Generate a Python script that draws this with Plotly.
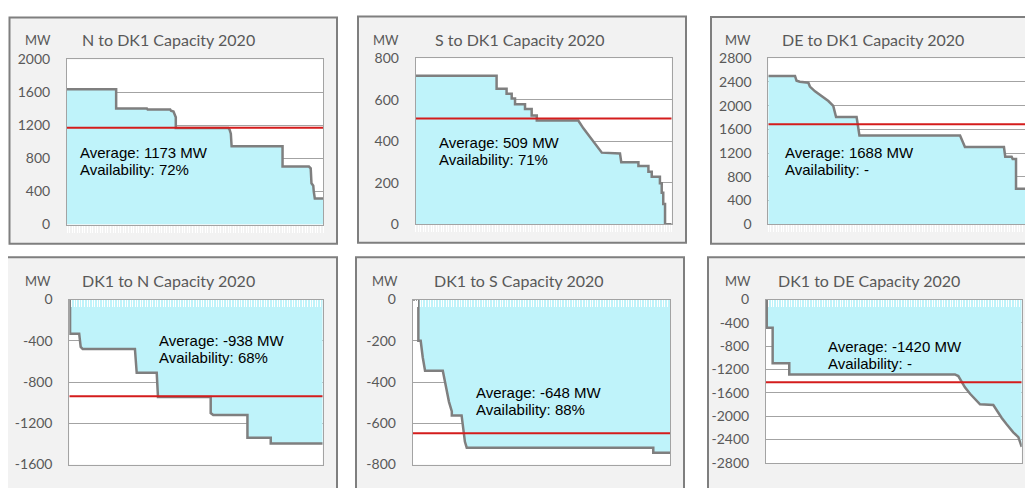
import plotly.graph_objects as go

# ---------------- data ----------------
titles = ["N to DK1 Capacity 2020", "S to DK1 Capacity 2020", "DE to DK1 Capacity 2020",
          "DK1 to N Capacity 2020", "DK1 to S Capacity 2020", "DK1 to DE Capacity 2020"]
averages = [1173, 509, 1688, -938, -648, -1420]
availability = ["72%", "71%", "-", "68%", "88%", "-"]
y_ranges = [[0, 2000], [0, 800], [0, 2800], [-1600, 0], [-800, 0], [-2800, 0]]
y_dticks = [400, 200, 400, 400, 200, 400]

# duration (% of hours) and capacity (MW) of each duration curve
dur_n_dk1 = [0, 19.2, 19.2, 31.2, 31.5, 40.3, 40.6, 41.6, 42.5, 42.5, 63.0, 63.5, 64.0, 64.3,
             84.2, 84.2, 94.5, 95.2, 95.5, 96.2, 96.4, 96.8, 100]
mw_n_dk1 = [1640, 1640, 1407, 1407, 1395, 1395, 1380, 1370, 1300, 1170, 1170, 1150, 1100, 947,
            947, 702, 702, 680, 500, 470, 400, 316, 316]

dur_s_dk1 = [0, 31.6, 31.6, 35.5, 35.5, 37.5, 37.5, 38.8, 38.8, 42.7, 42.7, 45.3, 45.3, 47.3,
             47.3, 63.5, 65.5, 67.4, 69.4, 71.4, 72.7, 79.8, 80.3, 87.0, 87.0, 90.9, 90.9,
             92.2, 92.2, 95.4, 95.4, 96.1, 96.1, 96.7, 96.7, 97.4, 97.4, 100]
mw_s_dk1 = [715, 715, 653, 653, 629, 629, 606, 606, 578, 578, 555, 555, 524, 524,
            500, 500, 462, 431, 400, 369, 345, 341, 299, 299, 281, 281, 253,
            253, 229, 229, 198, 198, 152, 152, 98, 98, 0, 0]

dur_de_dk1 = [0, 10.4, 11.0, 12.3, 15.6, 16.2, 18.2, 20.8, 23.4, 25.3, 26.4, 34.4, 35.5, 74.7,
              76.6, 91.8, 92.3, 94.8, 95.2, 96.5, 96.5, 100]
mw_de_dk1 = [2501, 2501, 2420, 2404, 2387, 2322, 2241, 2160, 2078, 1997, 1807, 1807, 1498, 1498,
             1302, 1302, 1139, 1139, 1101, 1101, 597, 597]

dur_dk1_n = [0, 0.3, 0.3, 3.9, 4.5, 5.3, 25.9, 26.3, 26.6, 34.5, 35.0, 55.8, 55.8, 56.8,
             70.3, 70.3, 79.5, 79.5, 100]
mw_dk1_n = [0, 0, -331, -331, -460, -480, -480, -696, -711, -711, -945, -945, -1101, -1120,
            -1120, -1341, -1341, -1397, -1397]

dur_dk1_s = [0, 2.2, 2.2, 3.1, 3.9, 4.8, 11.7, 12.3, 13.2, 14.1, 15.2, 15.2, 19.0, 19.7,
             20.3, 21.0, 93.5, 93.5, 100]
mw_dk1_s = [0, 0, -200, -200, -280, -345, -345, -387, -434, -496, -543, -562, -562, -640,
            -690, -718, -718, -743, -743]

dur_dk1_de = [0, 0.3, 0.3, 2.6, 2.6, 9.1, 9.1, 73.9, 75.2, 76.5, 77.8, 79.8, 81.7, 83.7,
              88.9, 90.9, 92.2, 94.1, 96.7, 98.7, 99.7, 100]
mw_dk1_de = [0, 0, -485, -485, -1091, -1091, -1284, -1284, -1312, -1422, -1505, -1615, -1698,
             -1797, -1808, -1946, -2029, -2139, -2277, -2359, -2525, -2525]

durations = [dur_n_dk1, dur_s_dk1, dur_de_dk1, dur_dk1_n, dur_dk1_s, dur_dk1_de]
capacities = [mw_n_dk1, mw_s_dk1, mw_de_dk1, mw_dk1_n, mw_dk1_s, mw_dk1_de]

# ---------------- layout geometry (pixels of the target picture) ----------------
W, H = 1033, 488
OFF = 8  # the page body adds an 8 px margin around the figure
plot_px = [(67, 52, 323, 223), (415.7, 50.7, 671.7, 222.7), (768.3, 50.7, 1025, 222.7),
           (69.3, 300.7, 322.7, 471.7), (412.7, 300.7, 670, 471.7), (766, 300.7, 1021.7, 470)]
panel_px = [(9.5, 8.5, 337, 243), (358, 7.5, 686, 242), (711, 8, 1045, 243),
            (7, 257, 337, 510), (356, 257, 684, 510), (708, 257, 1045, 510)]
title_px = [(80, 31), (433, 31), (780, 31), (80, 281), (432, 281), (776, 281)]
mw_px = [(37.5, 32), (386, 32), (738, 32), (37.5, 282), (385, 282), (738, 282)]
note_px = [(78, 148), (437, 138), (783, 148), (157, 343), (474, 397), (826, 349)]


def fx(x):
    return (x - OFF) / W


def fy(y):
    return 1 - (y - OFF) / H


FILL = "#bff3fa"
CURVE = "#7f7f7f"
GRID = "#a3a3a3"
RED = "#d41c1c"
GREY_TXT = "#595959"

fig = go.Figure()
shapes = []
annotations = []
layout = {}

for i in range(6):
    k = "" if i == 0 else str(i + 1)
    xa, ya = "x" + k, "y" + k
    x0, y0, x1, y1 = plot_px[i]
    top_row = i < 3

    # panel frame
    px0, py0, px1, py1 = panel_px[i]
    shapes.append(dict(type="rect", xref="paper", yref="paper", layer="below",
                       x0=fx(px0), x1=fx(px1), y0=fy(py1), y1=fy(py0),
                       fillcolor="#f2f2f2", line=dict(color="#7f7f7f", width=2)))
    shapes.append(dict(type="rect", xref=xa + " domain", yref=ya + " domain", layer="below",
                       x0=0, x1=1, y0=0, y1=1, fillcolor="white", line=dict(width=0)))

    fig.add_trace(go.Scatter(x=durations[i], y=capacities[i], mode="lines",
                             fill="tozeroy", fillcolor=FILL,
                             line=dict(color=CURVE, width=2.5),
                             xaxis=xa, yaxis=ya, showlegend=False, hoverinfo="skip"))
    fig.add_trace(go.Scatter(x=[0, 100], y=[averages[i], averages[i]], mode="lines",
                             line=dict(color=RED, width=2),
                             xaxis=xa, yaxis=ya, showlegend=False, hoverinfo="skip"))

    lo, hi = y_ranges[i]
    tickvals = list(range(lo, hi + 1, y_dticks[i]))
    ticktext = [str(v) for v in tickvals]  # plain hyphen minus, as in the reference

    layout["xaxis" + k] = dict(domain=[fx(x0), fx(x1)], anchor=ya, range=[0, 100],
                               showgrid=False, zeroline=False, showline=True, mirror=True,
                               linecolor=GRID, linewidth=1,
                               ticks="outside" if top_row else "inside",
                               side="bottom" if top_row else "top",
                               ticklen=7, tickwidth=1, tickcolor="white", dtick=1,
                               showticklabels=False, fixedrange=True)
    layout["yaxis" + k] = dict(domain=[fy(y1), fy(y0)], anchor=xa, range=y_ranges[i],
                               tickvals=tickvals, ticktext=ticktext,
                               showgrid=True, gridcolor=GRID, gridwidth=1,
                               zeroline=False, showline=True, mirror=True,
                               linecolor=GRID, linewidth=1, ticks="",
                               ticklabelstandoff=13,
                               tickfont=dict(family="Lato", size=14, color=GREY_TXT),
                               fixedrange=True)

    tx, ty = title_px[i]
    annotations.append(dict(text=titles[i], xref="paper", yref="paper", x=fx(tx), y=fy(ty),
                            xanchor="left", yanchor="middle", showarrow=False,
                            font=dict(family="Lato", size=16, color=GREY_TXT)))
    mx, my = mw_px[i]
    annotations.append(dict(text="MW", xref="paper", yref="paper", x=fx(mx), y=fy(my),
                            xanchor="center", yanchor="middle", showarrow=False,
                            font=dict(family="Lato", size=13, color=GREY_TXT)))
    nx, ny = note_px[i]
    annotations.append(dict(text=f"Average: {averages[i]} MW", xref="paper", yref="paper",
                            x=fx(nx), y=fy(ny), xanchor="left", yanchor="middle",
                            showarrow=False,
                            font=dict(family="Liberation Sans", size=15, color="black")))
    annotations.append(dict(text=f"Availability: {availability[i]}", xref="paper",
                            yref="paper", x=fx(nx), y=fy(ny + 17.5), xanchor="left",
                            yanchor="middle", showarrow=False,
                            font=dict(family="Liberation Sans", size=15, color="black")))

fig.update_layout(width=W, height=H, margin=dict(l=0, r=0, t=0, b=0),
                  paper_bgcolor="white", plot_bgcolor="white",
                  shapes=shapes, annotations=annotations, **layout)

fig.write_html("out.html")
